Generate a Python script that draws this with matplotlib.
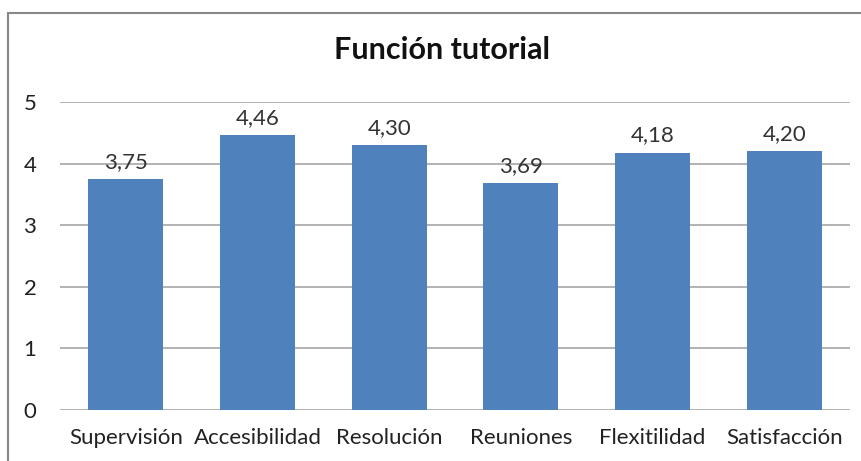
import matplotlib
matplotlib.use("Agg")
import matplotlib.pyplot as plt
from matplotlib.patches import Rectangle

categorias = ["Supervisión", "Accesibilidad", "Resolución", "Reuniones", "Flexitilidad", "Satisfacción"]
valores = [3.75, 4.46, 4.30, 3.69, 4.18, 4.20]

plt.rcParams["font.family"] = ["Lato", "DejaVu Sans"]

fig = plt.figure(figsize=(8.62, 4.61), dpi=100)
ax = fig.add_axes([60 / 862, 1 - 410 / 461, 790 / 862, 308 / 461])

# marco exterior del grafico
fig.patches.append(Rectangle((8 / 862, -0.05), 1.1, 1 - 13 / 461 + 0.05,
                             transform=fig.transFigure, fill=False,
                             edgecolor="#888888", linewidth=1.5))

x = range(len(categorias))
barras = ax.bar(x, valores, width=0.57, color="#4F81BD", zorder=3)
for b, v in zip(barras, valores):
    ax.annotate(f"{v:.2f}".replace(".", ","), (b.get_x() + b.get_width() / 2, v),
                xytext=(0, 5), textcoords="offset points", ha="center", va="bottom",
                fontsize=16, color="#333333")

ax.set_xlim(-0.5, len(categorias) - 0.5)
ax.set_ylim(0, 5)
ax.set_yticks(range(6))
ax.set_xticks(list(x))
ax.set_xticklabels(categorias)
ax.grid(axis="y", color="#a6a6a6", linewidth=1.2, zorder=0)
for s in ax.spines.values():
    s.set_visible(False)
ax.tick_params(axis="both", length=0, labelsize=16, colors="#222222")
ax.tick_params(axis="y", pad=17)
ax.tick_params(axis="x", pad=13)

fig.text(442 / 862, 1 - 50 / 461, "Función tutorial", ha="center", va="center",
         fontsize=22, fontweight="bold", color="#111111")

fig.savefig("out.png", dpi=100)
